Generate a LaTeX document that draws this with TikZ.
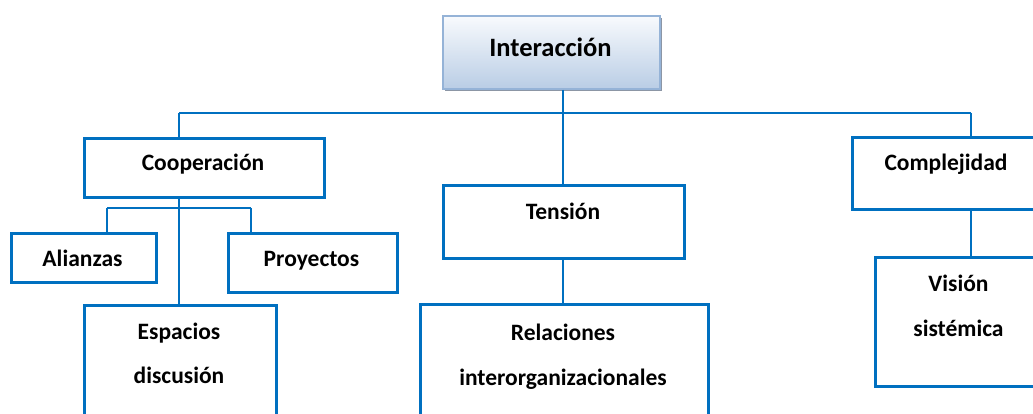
\documentclass[tikz,border=0pt]{standalone}
\usepackage{fontspec}
\setmainfont{Carlito}
\definecolor{boxblue}{RGB}{0,112,192}
\definecolor{lightedge}{RGB}{149,179,215}
\definecolor{topfill}{RGB}{248,250,253}
\definecolor{botfill}{RGB}{185,205,229}
\definecolor{shadowgray}{RGB}{140,150,165}
\tikzset{
  box/.style={draw=boxblue, line width=3pt, rectangle, inner sep=0pt, anchor=north west},
  conn/.style={draw=boxblue, line width=2.6pt},
  lbl/.style={font=\fontsize{23.5}{28}\selectfont\bfseries, inner sep=0pt, anchor=base},
  toplbl/.style={font=\fontsize{26.5}{30}\selectfont\bfseries, inner sep=0pt, anchor=base}
}
\begin{document}
\begin{tikzpicture}[x=1pt,y=-1pt]
\useasboundingbox (0,0) rectangle (1033,414);
\clip (0,0) rectangle (1033,414);
% top box with shadow
\fill[shadowgray] (445,18) rectangle (662,91);
\node[draw=lightedge, line width=2pt, top color=topfill, bottom color=botfill, rectangle, inner sep=0pt, anchor=north west, minimum width=217pt, minimum height=73pt] (inter) at (442,15) {};
\node[toplbl] (tinter) at (550.5,57) {Interacción};
% level 1
\node[box, minimum width=240pt, minimum height=59pt] (coop) at (83,137) {};
\node[lbl] (tcoop) at (203,171) {Cooperación};
\node[box, minimum width=241pt, minimum height=73pt] (tens) at (442,184) {};
\node[lbl] (ttens) at (563,219) {Tensión};
\node[box, minimum width=190pt, minimum height=72pt] (comp) at (851,136) {};
\node[lbl] (tcomp) at (946,171) {Complejidad};
% level 2
\node[box, minimum width=145pt, minimum height=49pt] (ali) at (10,232) {};
\node[lbl] (tali) at (82.5,266) {Alianzas};
\node[box, minimum width=169pt, minimum height=59pt] (proy) at (227,232) {};
\node[lbl] (tproy) at (311.5,266) {Proyectos};
\node[box, minimum width=192pt, minimum height=130pt] (esp) at (83,304) {};
\node[lbl] (tesp1) at (179,339) {Espacios};
\node[lbl] (tesp2) at (179,383) {discusión};
\node[box, minimum width=288pt, minimum height=130pt] (rel) at (419,303) {};
\node[lbl] (trel1) at (563,340) {Relaciones};
\node[lbl] (trel2) at (563,385) {interorganizacionales};
\node[box, minimum width=169pt, minimum height=129pt] (vis) at (874,256) {};
\node[lbl] (tvis1) at (958.5,291) {Visión};
\node[lbl] (tvis2) at (958.5,336) {sistémica};
% connectors
\coordinate (j0) at (563,113);
\coordinate (jl) at (179,113);
\coordinate (jr) at (971,113);
\draw[conn] (inter.south -| j0) -- (j0);
\draw[conn] (jl) -- (jr);
\draw[conn] (jl) -- (jl |- coop.north);
\draw[conn] (j0) -- (j0 |- tens.north);
\draw[conn] (jr) -- (jr |- comp.north);
\coordinate (c0) at (179,208);
\coordinate (cl) at (107,208);
\coordinate (cr) at (251,208);
\draw[conn] (c0 |- coop.south) -- (c0 |- esp.north);
\draw[conn] (cl) -- (cr);
\draw[conn] (cl) -- (cl |- ali.north);
\draw[conn] (cr) -- (cr |- proy.north);
\draw[conn] (j0 |- tens.south) -- (j0 |- rel.north);
\draw[conn] (jr |- comp.south) -- (jr |- vis.north);
\end{tikzpicture}
\end{document}
